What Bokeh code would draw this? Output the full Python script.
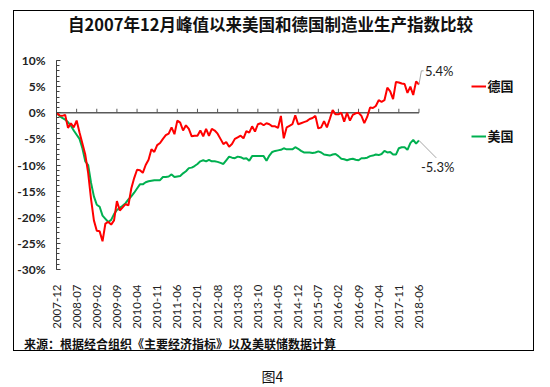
import math
import pandas as pd
from bokeh.plotting import figure
from bokeh.layouts import column
from bokeh.models import (Range1d, FixedTicker, Label, Legend, LegendItem, Title, Div)
from bokeh.embed import file_html
from bokeh.resources import INLINE

# ---------------- data ----------------
title_text = "自2007年12月峰值以来美国和德国制造业生产指数比较"
source_text = "来源：根据经合组织《主要经济指标》以及美联储数据计算"
caption_text = "图4"
series_names = ["德国", "美国"]

dates = list(pd.period_range("2007-12", "2018-06", freq="M").strftime("%Y-%m"))

x_tick_labels = ["2007-12", "2008-07", "2009-02", "2009-09", "2010-04", "2010-11",
                 "2011-06", "2012-01", "2012-08", "2013-03", "2013-10", "2014-05",
                 "2014-12", "2015-07", "2016-02", "2016-09", "2017-04", "2017-11",
                 "2018-06"]
y_ticks = [-30, -25, -20, -15, -10, -5, 0, 5, 10]
y_tick_labels = ["-30%", "-25%", "-20%", "-15%", "-10%", "-5%", "0%", "5%", "10%"]

germany = [0, -0.5, -0.6, -0.4, -2.9, -2.0, -2.8, -1.5, -3.8, -5.9,
           -8.0, -11.5, -16.5, -20.6, -22.6, -22.7, -24.6, -21.2, -20.9, -21.4,
           -20.6, -16.9, -18.7, -18.1, -17.5, -17.7, -14.5, -12.5, -10.9, -11.0,
           -11.5, -10.0, -9.0, -7.0, -7.5, -6.2, -5.8, -5.0, -4.3, -4.0,
           -2.8, -4.1, -1.5, -1.9, -3.4, -2.4, -3.1, -4.5, -4.4, -4.4,
           -3.4, -4.5, -3.1, -4.4, -3.1, -3.4, -4.0, -5.0, -6.0, -5.6,
           -6.5, -6.0, -5.0, -4.7, -4.4, -4.9, -3.5, -3.8, -2.6, -3.6,
           -2.2, -2.0, -2.4, -2.0, -2.2, -2.6, -2.6, -2.9, -0.6, -4.9,
           -2.8, -2.5, -2.2, -0.5, -2.2, -2.0, -1.8, -1.6, -1.2, -1.0,
           -0.6, -3.0, -2.8, -1.6, -2.8, -1.2, 0.5, -0.3, -0.3, 0.0,
           -1.7, 0.0, -1.5, -0.4, -0.1, 0.0, -0.6, -2.0, -0.8, 1.0,
           0.9, 1.3, 2.4, 2.1, 2.4, 4.8, 4.1, 2.6, 5.9, 5.8,
           5.6, 5.5, 3.8, 5.0, 3.4, 6.0, 5.4]

usa = [0, -0.6, -1.0, -1.3, -1.8, -2.5, -3.4, -4.2, -5.0, -6.8,
       -9.3, -10.0, -13.4, -16.0, -17.6, -18.0, -19.7, -20.3, -20.9, -20.5,
       -19.4, -18.6, -18.2, -17.8, -17.3, -16.6, -16.0, -15.3, -14.5, -13.7,
       -13.7, -13.3, -13.1, -13.0, -12.9, -12.9, -12.9, -12.3, -12.3, -12.2,
       -11.8, -12.3, -12.2, -12.1, -11.6, -11.2, -10.6, -10.5, -10.2, -9.8,
       -9.3, -9.1, -9.3, -9.0, -9.3, -9.3, -9.4, -9.6, -9.8, -9.1,
       -8.4, -8.6, -8.7, -8.4, -8.5, -8.8, -8.7, -9.2, -8.3, -8.3,
       -8.3, -8.3, -8.3, -9.2, -8.2, -7.5, -7.3, -7.2, -7.1, -6.8,
       -7.0, -7.0, -7.0, -6.6, -6.9, -7.3, -7.6, -7.6, -7.6, -7.7,
       -7.6, -7.4, -7.6, -8.0, -8.1, -8.2, -8.0, -7.9, -8.3, -8.8,
       -8.9, -9.1, -8.9, -8.8, -9.0, -9.1, -8.7, -8.7, -8.6, -8.3,
       -8.2, -8.0, -8.1, -7.9, -7.3, -7.6, -7.5, -8.0, -8.0, -6.8,
       -6.6, -6.6, -7.1, -5.8, -5.2, -5.9, -5.3]

# ---------------- layout ----------------
W, H = 521, 341
BL, BT, BB, BR = 40, 48, 80, 5
frame_w = W - BL - BR
frame_h = H - BT - BB
px_per_month = 364.0 / 126.0
y_lo, y_hi = y_ticks[0], y_ticks[-1]
px_per_unit = frame_h / (y_hi - y_lo)

idx = list(range(len(dates)))
x_ticks = [dates.index(d) for d in x_tick_labels]

CJK = "Noto Sans CJK SC"
LAT = "Lato"

p = figure(width=W, height=H, output_backend="svg", toolbar_location=None,
           x_range=Range1d(0, frame_w / px_per_month), y_range=Range1d(y_lo, y_hi),
           min_border_left=BL, min_border_right=BR, min_border_top=BT,
           min_border_bottom=BB,
           styles={"border": "1.5px solid black", "margin-left": "13px",
                   "margin-top": "10px"})
p.outline_line_color = None
p.xgrid.visible = False
p.ygrid.visible = False
p.background_fill_color = "white"
p.border_fill_color = "white"

xa = p.below[0]
ya = p.left[0]

# y axis
ya.ticker = FixedTicker(ticks=y_ticks, minor_ticks=list(range(y_lo, y_hi + 1)))
ya.major_label_overrides = dict(zip(y_ticks, y_tick_labels))
ya.axis_line_color = "#404040"
ya.major_tick_line_color = "#404040"
ya.minor_tick_line_color = "#404040"
ya.major_tick_in = 4
ya.major_tick_out = 0
ya.minor_tick_in = 3
ya.minor_tick_out = 0
ya.major_label_standoff = 11
ya.major_label_text_font = LAT
ya.major_label_text_font_style = "bold"
ya.major_label_text_font_size = "12px"
ya.major_label_text_color = "#222222"

# x axis (labels only, at bottom)
xa.ticker = FixedTicker(ticks=x_ticks, minor_ticks=[])
xa.major_label_overrides = dict(zip(x_ticks, x_tick_labels))
xa.major_label_orientation = math.pi / 2
xa.axis_line_color = None
xa.major_tick_line_color = None
xa.minor_tick_line_color = None
xa.major_label_standoff = 9
xa.major_label_text_font = LAT
xa.major_label_text_font_size = "11.5px"
xa.major_label_text_color = "#222222"

# title (a trailing empty line lifts it away from the plot area)
p.title.text = title_text + "\n"
p.title.align = "left"
p.title.offset = 11.5
p.title.vertical_align = "top"
p.title.standoff = 0
p.title.text_line_height = 0.95
p.title.text_font = CJK
p.title.text_font_style = "bold"
p.title.text_font_size = "16.5px"
p.title.text_color = "#111111"

# source note below the axis
p.add_layout(Title(text=source_text, align="left", offset=-32.5, standoff=2,
                   text_font=CJK, text_font_style="bold", text_font_size="12px",
                   text_color="#111111"), "below")

# zero line with its ticks
p.line(x=[x_ticks[0], x_ticks[-1]], y=[0, 0], line_color="#595959", line_width=1.5)
p.ray(x=x_ticks, y=[0] * len(x_ticks), length=4, length_units="screen",
      angle=math.pi / 2, line_color="#595959", line_width=1)

# series
r_us = p.line(idx, usa, line_color="#00B050", line_width=2)
r_de = p.line(idx, germany, line_color="#FF0000", line_width=2)

legend = Legend(items=[LegendItem(label=series_names[0], renderers=[r_de]),
                       LegendItem(label=series_names[1], renderers=[r_us])],
                location=(414.5, 123.5), orientation="vertical",
                padding=0, margin=0, spacing=30, glyph_width=15, glyph_height=20,
                label_height=20, label_standoff=2, border_line_color=None,
                background_fill_alpha=0, label_text_font=CJK,
                label_text_font_style="bold", label_text_font_size="13px",
                label_text_color="#111111")
p.add_layout(legend)

# end callouts
dx = 1.0 / px_per_month
dy = 1.0 / px_per_unit
xe = idx[-1]
p.line(x=[xe, xe + 2.4 * dx, xe + 4.7 * dx],
       y=[germany[-1], germany[-1] + 14 * dy, germany[-1] + 14 * dy],
       line_color="#A6A6A6", line_width=1)
p.line(x=[xe, xe + 17.4 * dx], y=[usa[-1], usa[-1] - 17.8 * dy],
       line_color="#A6A6A6", line_width=1)
p.add_layout(Label(x=xe, y=germany[-1], text=f"{germany[-1]:.1f}%", x_offset=6,
                   y_offset=14, text_baseline="middle", text_font=LAT,
                   text_font_size="13px", text_color="#222222"))
p.add_layout(Label(x=xe, y=usa[-1], text=f"{usa[-1]:.1f}%", x_offset=2,
                   y_offset=-27, text_baseline="middle", text_font=LAT,
                   text_font_size="13px", text_color="#222222"))

cap = Div(text=caption_text, width=523, height=13,
          styles={"margin-left": "11px", "margin-top": "19px", "text-align": "center",
                  "font-family": CJK, "font-size": "14px", "color": "#111111",
                  "line-height": "13px"})

root = column(p, cap)
open("out.html", "w").write(file_html(root, INLINE))
